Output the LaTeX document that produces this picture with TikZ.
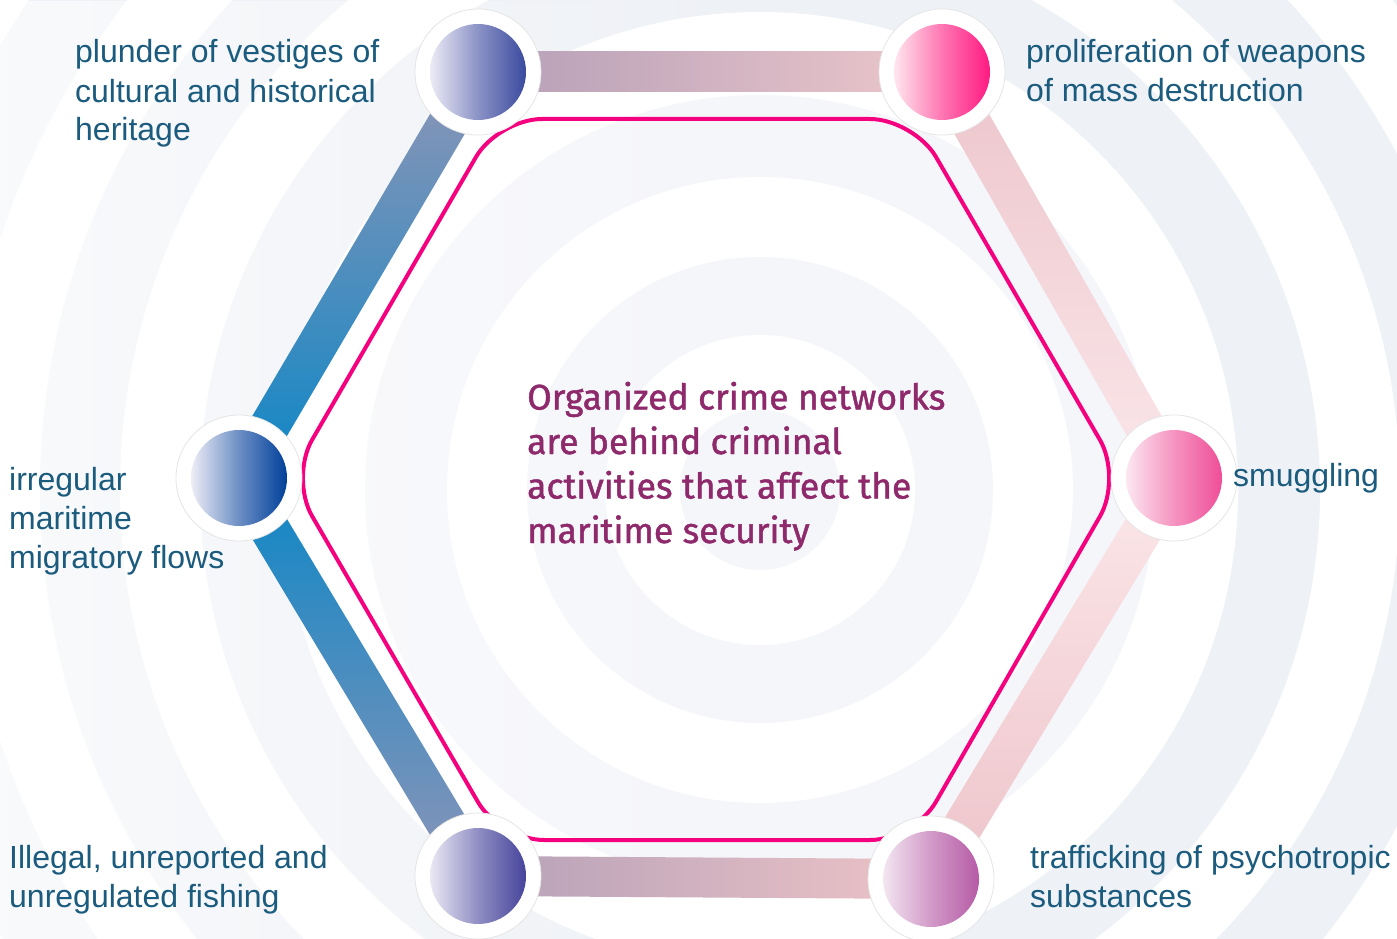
\documentclass[tikz,border=0pt]{standalone}
\usepackage{fontspec}
\setmainfont{Liberation Sans}
\newfontfamily\headfont[FakeBold=1.3]{Fira Sans}
\usetikzlibrary{calc,positioning,backgrounds,fadings}

\definecolor{txtblue}{HTML}{1B5B7E}
\definecolor{crime}{HTML}{8E2A6C}
\definecolor{hexpink}{HTML}{F5007F}
\definecolor{ringgrey}{HTML}{EEF1F6}
\definecolor{ringlight}{HTML}{F5F6FA}

\tikzset{
  hub/.style={circle, fill=white, draw=black!10, line width=0.8pt, minimum size=126pt, inner sep=0pt},
  dot/.style 2 args={circle, minimum size=96pt, inner sep=0pt, left color=#1, right color=#2, middle color=#2!55!#1},
  txt/.style={anchor=base west, inner sep=0pt, align=left, text=txtblue, font=\fontsize{32}{39}\selectfont}
}

% thick band between two hubs, #3 = shading
\newcommand{\hexbar}[3]{%
  \path[#3] ($(#1)!20pt!90:(#2)$) -- ($(#1)!20pt!-90:(#2)$) -- ($(#2)!20pt!90:(#1)$) -- ($(#2)!20pt!-90:(#1)$) -- cycle;}

\begin{document}
\begin{tikzpicture}[x=1pt,y=-1pt]
\useasboundingbox (0,0) rectangle (1397,939);
\coordinate (ctr) at (760,490);

% hubs
\foreach \name/\pos/\lc/\rc in {plunder/{478,72}/EDEBF6/3A4A9E, weapons/{942,72}/FFE6EE/FF1A82,
  migration/{239,478}/EEEDF7/00409A, smuggling/{1174,478}/FCE8F1/EF4E98,
  fishing/{478,876}/EBE8F4/45449B, trafficking/{931,879}/F3E6F1/B65BA6} {
  \definecolor{lc}{HTML}{\lc}\definecolor{rc}{HTML}{\rc}
  \node[hub] (\name) at (\pos) {};
  \node[dot={lc}{rc}] (\name-dot) at (\name) {};
}

\begin{scope}[on background layer]
  \clip (0,0) rectangle (1397,939);
  \fill[white] (0,0) rectangle (1397,939);
  % rings
  \foreach \r/\c in {880/ringgrey,800/white,720/ringgrey,640/white,560/ringgrey,478/white,
    395/ringlight,313/white,233/ringlight,155/white,80/ringlight}
    \fill[\c] (ctr) circle (\r pt);
  % rings fade out to the left
  \fill[white, opacity=0.65, path fading=east] (0,0) rectangle (760,939);

  \hexbar{plunder}{weapons}{left color={rgb,255:red,180;green,158;blue,183}, right color={rgb,255:red,237;green,199;blue,203}}
  \hexbar{fishing}{trafficking}{left color={rgb,255:red,181;green,160;blue,184}, right color={rgb,255:red,238;green,196;blue,199}}
  \hexbar{migration}{plunder}{top color={rgb,255:red,145;green,150;blue,182}, bottom color={rgb,255:red,10;green,134;blue,198}}
  \hexbar{migration}{fishing}{top color={rgb,255:red,10;green,134;blue,198}, bottom color={rgb,255:red,141;green,149;blue,184}}
  \hexbar{weapons}{smuggling}{top color={rgb,255:red,236;green,197;blue,203}, bottom color={rgb,255:red,251;green,231;blue,234}}
  \hexbar{smuggling}{trafficking}{top color={rgb,255:red,252;green,232;blue,234}, bottom color={rgb,255:red,237;green,195;blue,201}}

  % the network
  \draw[hexpink, line width=4pt, rounded corners=44pt] (706,119) -- (914,119) -- (1122,478) -- (914,840)
    -- (500,840) -- (290,478) -- (498,119) -- cycle;
\end{scope}

% base anchor = last line
\node[txt] (plunder-lbl) at (75,141) {plunder of vestiges of\\cultural and historical\\heritage};
\node[txt] (weapons-lbl) at (1026,102) {proliferation of weapons\\of mass destruction};
\node[txt] (migration-lbl) at (9,568) {irregular\\maritime\\migratory flows};
\node[txt] (smuggling-lbl) at (1233,486) {smuggling};
\node[txt] (fishing-lbl) at (9,907) {Illegal, unreported and\\unregulated fishing};
\node[txt] (trafficking-lbl) at (1030,907) {trafficking of psychotropic\\substances};

\node[anchor=base west, inner sep=0pt, align=left, text=crime, font=\headfont\fontsize{35.5}{44.5}\selectfont] (crime)
  at (527,543) {Organized crime networks\\are behind criminal\\activities that affect the\\maritime security};
\end{tikzpicture}
\end{document}
